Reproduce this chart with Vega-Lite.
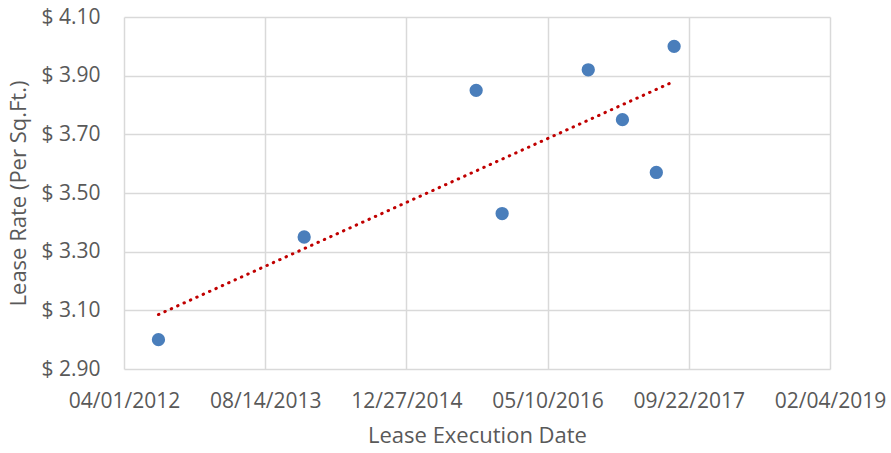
{
  "$schema": "https://vega.github.io/schema/vega-lite/v6.json",
  "autosize": {"type": "none"},
  "padding": {"left": 124, "top": 17, "right": 61, "bottom": 84},
  "width": 706,
  "height": 352,
  "background": "white",
  "config": {
    "view": {"stroke": null},
    "font": "Open Sans",
    "axis": {
      "labelFont": "Open Sans",
      "titleFont": "Open Sans",
      "labelColor": "#595959",
      "titleColor": "#595959",
      "labelFontSize": 21,
      "titleFontSize": 22,
      "titleFontWeight": "normal",
      "gridColor": "#d9d9d9",
      "gridWidth": 1.5,
      "ticks": false,
      "tickSize": 0,
      "domain": false
    }
  },
  "data": {
    "values": [
      {"date": "2012-08-01", "rate": 3.00},
      {"date": "2013-12-30", "rate": 3.35},
      {"date": "2015-08-31", "rate": 3.85},
      {"date": "2015-12-01", "rate": 3.43},
      {"date": "2016-10-01", "rate": 3.92},
      {"date": "2017-01-30", "rate": 3.75},
      {"date": "2017-05-30", "rate": 3.57},
      {"date": "2017-08-01", "rate": 4.00}
    ]
  },
  "layer": [
    {
      "mark": {"type": "circle", "size": 177, "opacity": 1, "color": "#4a7ebb"},
      "encoding": {
        "x": {
          "field": "date",
          "type": "temporal",
          "scale": {
            "type": "utc",
            "domain": [
              {"year": 2012, "month": 4, "date": 1, "utc": true},
              {"year": 2019, "month": 2, "date": 4, "utc": true}
            ],
            "nice": false
          },
          "axis": {
            "values": [
              {"year": 2012, "month": 4, "date": 1, "utc": true},
              {"year": 2013, "month": 8, "date": 14, "utc": true},
              {"year": 2014, "month": 12, "date": 27, "utc": true},
              {"year": 2016, "month": 5, "date": 10, "utc": true},
              {"year": 2017, "month": 9, "date": 22, "utc": true},
              {"year": 2019, "month": 2, "date": 4, "utc": true}
            ],
            "format": "%m/%d/%Y",
            "title": "Lease Execution Date",
            "labelPadding": 21,
            "titlePadding": 14,
            "labelOverlap": false,
            "labelFlush": false
          }
        },
        "y": {
          "field": "rate",
          "type": "quantitative",
          "scale": {"domain": [2.9, 4.1], "nice": false, "zero": false},
          "axis": {
            "values": [2.9, 3.1, 3.3, 3.5, 3.7, 3.9, 4.1],
            "labelExpr": "'$ ' + format(datum.value, '.2f')",
            "title": "Lease Rate (Per Sq.Ft.)",
            "labelPadding": 24,
            "titlePadding": 10,
            "labelFlush": false
          }
        }
      }
    },
    {
      "transform": [{"regression": "rate", "on": "date"}],
      "mark": {"type": "line", "color": "#c00000", "strokeWidth": 3, "strokeDash": [0.5, 6.5], "strokeCap": "round"},
      "encoding": {
        "x": {"field": "date", "type": "temporal"},
        "y": {"field": "rate", "type": "quantitative"}
      }
    }
  ]
}
